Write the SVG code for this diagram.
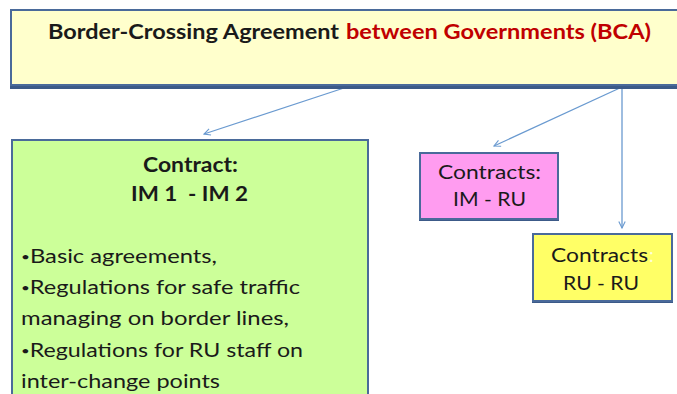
<svg xmlns="http://www.w3.org/2000/svg" width="677" height="394" viewBox="0 0 677 394">
  <style>
    .box { stroke: #4a6a9a; stroke-width: 2; }
    .shadow { fill: #3c5a88; }
    .txt { font-family: Lato, "Open Sans", "Liberation Sans", sans-serif; fill: #1a1a1a; }
    .bold { font-weight: bold; }
    .dot { font-size: 12px; }
    .conn { stroke: #6a9ad0; stroke-width: 1.3; fill: none; marker-end: url(#arrow); }
  </style>
  <defs>
    <marker id="arrow" viewBox="0 0 10 10" refX="9" refY="5" markerWidth="8" markerHeight="8" orient="auto" markerUnits="userSpaceOnUse">
      <path d="M1,1 L9,5 L1,9" fill="none" stroke="#6a9ad0" stroke-width="1.4"/>
    </marker>
  </defs>
  <rect width="677" height="394" fill="#ffffff"/>

  <!-- Connectors -->
  <g id="connectors">
    <line class="conn" x1="347" y1="87" x2="204" y2="134"/>
    <line class="conn" x1="622" y1="87" x2="494" y2="146"/>
    <line class="conn" x1="622" y1="87" x2="622" y2="228"/>
  </g>

  <!-- Agreement between governments -->
  <g id="bca">
    <rect class="shadow" x="10" y="12" width="680" height="77"/>
    <rect class="box" x="11" y="10" width="680" height="75" fill="#ffffcc"/>
    <text class="txt bold" x="48" y="39" font-size="20" textLength="291" lengthAdjust="spacingAndGlyphs">Border-Crossing Agreement</text>
    <text class="txt bold" x="346" y="39" font-size="20" style="fill:#c00000" textLength="305" lengthAdjust="spacingAndGlyphs">between Governments (BCA)</text>
  </g>

  <!-- Infrastructure manager contract -->
  <g id="im-im">
    <rect class="shadow" x="11" y="141" width="358" height="270"/>
    <rect class="box" x="12" y="140" width="356" height="270" fill="#ccff99"/>
    <text class="txt bold" x="143" y="172" font-size="21" textLength="95" lengthAdjust="spacingAndGlyphs">Contract:</text>
    <text class="txt bold" x="131" y="201" font-size="21" textLength="117" lengthAdjust="spacingAndGlyphs" xml:space="preserve">IM 1  - IM 2</text>
    <text class="txt" x="21" y="263" font-size="18.5" textLength="196" lengthAdjust="spacingAndGlyphs"><tspan class="dot" dy="-2">•</tspan><tspan dy="2">Basic agreements,</tspan></text>
    <text class="txt" x="21" y="294" font-size="18.5" textLength="279" lengthAdjust="spacingAndGlyphs"><tspan class="dot" dy="-2">•</tspan><tspan dy="2">Regulations for safe traffic</tspan></text>
    <text class="txt" x="21" y="325" font-size="18.5" textLength="268" lengthAdjust="spacingAndGlyphs">managing on border lines,</text>
    <text class="txt" x="21" y="357" font-size="18.5" textLength="282" lengthAdjust="spacingAndGlyphs"><tspan class="dot" dy="-2">•</tspan><tspan dy="2">Regulations for RU staff on</tspan></text>
    <text class="txt" x="21" y="388" font-size="18.5" textLength="199" lengthAdjust="spacingAndGlyphs">inter-change points</text>
  </g>

  <!-- IM - RU contracts -->
  <g id="im-ru">
    <rect class="shadow" x="419" y="154" width="140" height="67"/>
    <rect class="box" x="420" y="153" width="138" height="66" fill="#ff9cf0"/>
    <text class="txt" x="438" y="179" font-size="18.5" textLength="103" lengthAdjust="spacingAndGlyphs">Contracts:</text>
    <text class="txt" x="453" y="206" font-size="18.5" textLength="73" lengthAdjust="spacingAndGlyphs">IM - RU</text>
  </g>

  <!-- RU - RU contracts -->
  <g id="ru-ru">
    <rect class="shadow" x="532" y="235" width="141" height="68"/>
    <rect class="box" x="533" y="234" width="139" height="67" fill="#ffff66"/>
    <text class="txt" x="551" y="262" font-size="18.5" textLength="97" lengthAdjust="spacingAndGlyphs">Contracts</text>
    <text class="txt" x="649" y="262" font-size="18.5" style="fill:#ffffd8">:</text>
    <text class="txt" x="563" y="290" font-size="18.5" textLength="76" lengthAdjust="spacingAndGlyphs">RU - RU</text>
  </g>
</svg>
